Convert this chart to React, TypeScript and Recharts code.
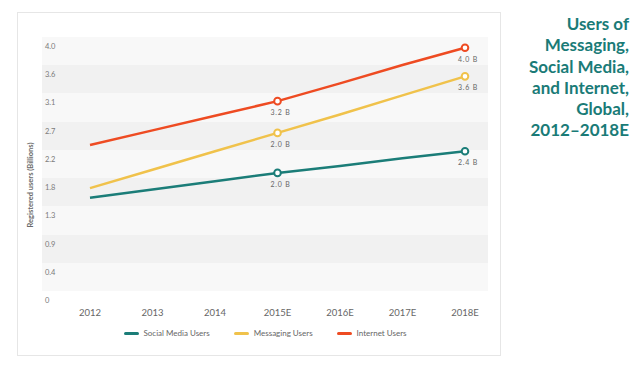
import { CartesianGrid, Legend, Line, LineChart, XAxis, YAxis } from 'recharts';

const years = ['2012', '2013', '2014', '2015E', '2016E', '2017E', '2018E'];
const socialMedia = [1.47, 1.6, 1.73, 1.86, 1.97, 2.09, 2.2];
const messaging = [1.62, 1.91, 2.2, 2.49, 2.78, 3.08, 3.38];
const internet = [2.3, 2.53, 2.76, 2.99, 3.27, 3.56, 3.83];
const socialLabels = ['', '', '', '2.0 B', '', '', '2.4 B'];
const messagingLabels = ['', '', '', '2.0 B', '', '', '3.6 B'];
const internetLabels = ['', '', '', '3.2 B', '', '', '4.0 B'];
const yTicks = [0, 0.444, 0.889, 1.333, 1.778, 2.222, 2.667, 3.111, 3.556, 4.0];
const yTickLabels = ['0', '0.4', '0.9', '1.3', '1.8', '2.2', '2.7', '3.1', '3.6', '4.0'];

const series = [
  { key: 'social', name: 'Social Media Users', color: '#1b7d78', labels: socialLabels },
  { key: 'messaging', name: 'Messaging Users', color: '#f0c24b', labels: messagingLabels },
  { key: 'internet', name: 'Internet Users', color: '#ee4b22', labels: internetLabels },
];

const rows = years.map((year, i) => ({
  year,
  social: socialMedia[i],
  messaging: messaging[i],
  internet: internet[i],
}));

const font = 'Lato, "Open Sans", sans-serif';

function renderYTick(props: any) {
  const { x, y, payload } = props;
  const idx = yTicks.indexOf(payload.value);
  return (
    <text x={x + 3} y={y + 9.5} fontSize={7.5} fill="#7a7a7a" fontFamily={font} dominantBaseline="central">
      {yTickLabels[idx] ?? String(payload.value)}
    </text>
  );
}

function renderXTick(props: any) {
  const { x, y, payload } = props;
  return (
    <text x={x} y={y + 13} fontSize={9.5} fill="#666" fontFamily={font} textAnchor="middle" dominantBaseline="central">
      {payload.value}
    </text>
  );
}

function makeDot(color: string, labels: string[]) {
  return (props: any) => {
    const { cx, cy, index } = props;
    if (!labels[index]) return <g key={`d${index}`} />;
    return (
      <g key={`d${index}`}>
        <circle cx={cx} cy={cy} r={3.3} fill="#fff" stroke={color} strokeWidth={2} />
        <text
          x={cx + 3}
          y={cy + 11}
          fontSize={7}
          fill="#666"
          fontFamily={font}
          letterSpacing={0.8}
          textAnchor="middle"
          dominantBaseline="central"
        >
          {labels[index]}
        </text>
      </g>
    );
  };
}

function LegendItems() {
  return (
    <div style={{ display: 'flex', justifyContent: 'center', gap: 24, fontFamily: font, fontSize: 8, color: '#666' }}>
      {series.map((s) => (
        <div key={s.key} style={{ display: 'flex', alignItems: 'center' }}>
          <span style={{ display: 'inline-block', width: 15, height: 3, borderRadius: 2, background: s.color, marginRight: 5 }} />
          <span>{s.name}</span>
        </div>
      ))}
    </div>
  );
}

export default function App() {
  return (
    <div style={{ position: 'absolute', left: 0, top: 0, width: 644, height: 371, background: '#fff', overflow: 'hidden' }}>
      <div
        style={{
          position: 'absolute',
          left: 17,
          top: 12,
          width: 484,
          height: 344,
          border: '1px solid #e6e6e6',
          boxSizing: 'border-box',
        }}
      />
      <div
        style={{
          position: 'absolute',
          left: 30,
          top: 185,
          transform: 'translate(-50%, -50%) rotate(-90deg)',
          fontFamily: font,
          fontSize: 7.5,
          fontWeight: 700,
          color: '#6a6a6a',
          whiteSpace: 'nowrap',
        }}
      >
        Registered users (Billions)
      </div>
      <div style={{ position: 'absolute', left: 0, top: 0 }}>
        <LineChart width={644} height={371} data={rows} margin={{ top: 37, right: 156, left: 41, bottom: 50 }}>
          <CartesianGrid
            vertical={false}
            stroke="none"
            horizontalFill={['#f8f8f8', '#f1f1f1']}
            fillOpacity={1}
          />
          <XAxis
            dataKey="year"
            axisLine={false}
            tickLine={false}
            tick={renderXTick}
            height={30}
            padding={{ left: 48, right: 23 }}
            interval={0}
          />
          <YAxis
            domain={[0, 4]}
            ticks={yTicks}
            axisLine={false}
            tickLine={false}
            tickSize={0}
            tickMargin={0}
            width={1}
            tick={renderYTick}
            interval={0}
          />
          <Legend
            verticalAlign="middle"
            content={() => <LegendItems />}
            wrapperStyle={{ top: 328, left: 42, width: 446 }}
          />
          {series.map((s) => (
            <Line
              key={s.key}
              dataKey={s.key}
              name={s.name}
              stroke={s.color}
              strokeWidth={2.5}
              dot={makeDot(s.color, s.labels)}
              activeDot={false}
              isAnimationActive={false}
            />
          ))}
        </LineChart>
      </div>
      <div
        style={{
          position: 'absolute',
          right: 15,
          top: 13,
          textAlign: 'right',
          fontFamily: font,
          fontWeight: 700,
          fontSize: 17,
          lineHeight: '21.3px',
          color: '#1a7b77',
        }}
      >
        Users of
        <br />
        Messaging,
        <br />
        Social Media,
        <br />
        and Internet,
        <br />
        Global,
        <br />
        2012–2018E
      </div>
    </div>
  );
}
